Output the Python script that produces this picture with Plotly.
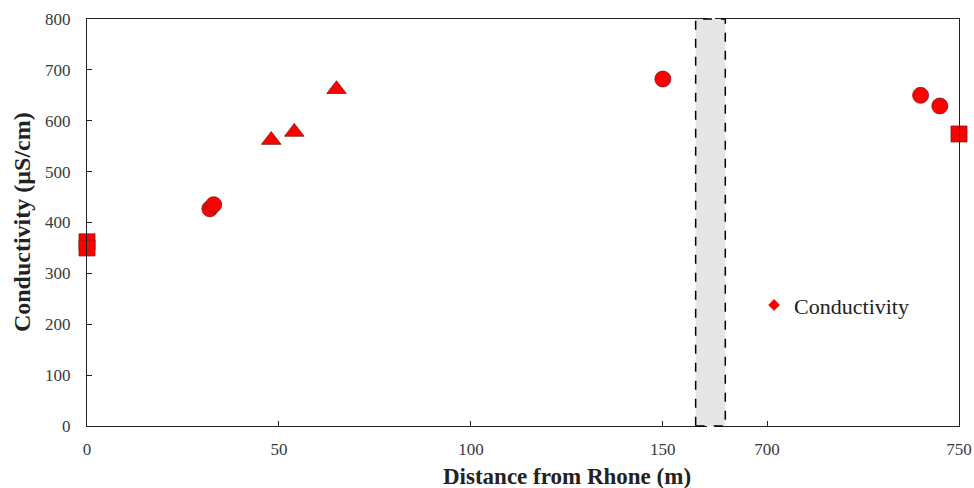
import plotly.graph_objects as go

# ---- data ----
sq_x = [0, 0, 750]
sq_y = [362, 350, 574]
circ_x = [32, 33, 150, 740, 745]
circ_y = [427, 435, 682, 650, 629]
tri_x = [48, 54, 65]
tri_y = [562, 578, 662]
left_ticks = [0, 50, 100, 150]
right_ticks = [700, 750]
y_ticks = [0, 100, 200, 300, 400, 500, 600, 700, 800]
left_range = [0, 161.5]
right_range = [686.4, 750]
y_range = [0, 800]

RED = "#ff0000"
EDGE = "#7a1a1a"
FONT = "Liberation Serif, Times New Roman, serif"

def split(xs, ys, right):
    px, py = [], []
    for x, y in zip(xs, ys):
        if (x >= 600) == right:
            px.append(x); py.append(y)
    return px, py

fig = go.Figure()
for right, xa in [(False, "x"), (True, "x2")]:
    ya = "y" if not right else "y2"
    for xs, ys, sym, sz in [(sq_x, sq_y, "square", 16), (circ_x, circ_y, "circle", 16), (tri_x, tri_y, "triangle-up", 17)]:
        px, py = split(xs, ys, right)
        if not px:
            continue
        fig.add_trace(go.Scatter(x=px, y=py, mode="markers", xaxis=xa, yaxis=ya,
                                 marker=dict(symbol=sym, size=sz, color=RED, line=dict(color=EDGE, width=0.8)),
                                 cliponaxis=False, showlegend=False, hoverinfo="x+y"))

# legend entry
fig.add_trace(go.Scatter(x=[None], y=[None], mode="markers", name="Conductivity",
                         marker=dict(symbol="diamond", size=9, color=RED), showlegend=True))

dom_l = [0, 0.711]
dom_r = [0.720, 1]
axis_common = dict(showline=True, linecolor="#222", linewidth=1.3, ticks="inside", ticklen=5,
                   tickcolor="#222", showgrid=False, zeroline=False, automargin=False,
                   ticklabeloverflow="allow",
                   tickfont=dict(family=FONT, size=17, color="#3a3a3a"))

fig.update_layout(
    width=974, height=488,
    margin=dict(l=87, r=15, t=19, b=62),
    paper_bgcolor="white", plot_bgcolor="white",
    xaxis=dict(domain=dom_l, range=left_range, tickvals=left_ticks, mirror=True,
               ticklabelstandoff=7, anchor="y", **axis_common),
    xaxis2=dict(domain=dom_r, range=right_range, tickvals=right_ticks, mirror=True,
                ticklabelstandoff=7, anchor="y2", **axis_common),
    yaxis=dict(domain=[0, 1], range=y_range, tickvals=y_ticks, anchor="x",
               ticklabelstandoff=12, **axis_common),
    yaxis2=dict(domain=[0, 1], range=y_range, matches="y", anchor="x2", side="right",
                showline=True, linecolor="#222", linewidth=1.3, ticks="", showticklabels=False,
                showgrid=False, zeroline=False, automargin=False),
    showlegend=True,
    legend=dict(x=0.765, y=0.297, xanchor="left", yanchor="middle", bgcolor="rgba(0,0,0,0)",
                font=dict(family=FONT, size=22, color="#222"), itemwidth=30),
    shapes=[dict(type="rect", xref="paper", yref="paper", x0=0.698, x1=0.732, y0=0, y1=1,
                 fillcolor="#e6e6e6", line=dict(color="black", width=1.5, dash="dash"), layer="above")],
    annotations=[
        dict(text="<b>Distance from Rhone (m)</b>", xref="paper", yref="paper", x=0.55, y=-0.125,
             xanchor="center", yanchor="middle", showarrow=False,
             font=dict(family=FONT, size=23, color="#222")),
        dict(text="<b>Conductivity (µS/cm)</b>", xref="paper", yref="paper", x=-0.075, y=0.5,
             xanchor="center", yanchor="middle", textangle=-90, showarrow=False,
             font=dict(family=FONT, size=24, color="#222")),
    ],
)

fig.write_html("out.html")
